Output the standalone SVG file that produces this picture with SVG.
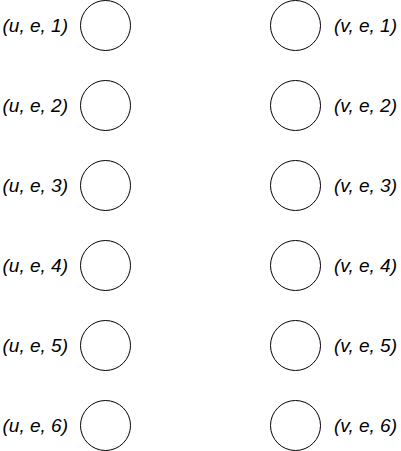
<svg xmlns="http://www.w3.org/2000/svg" width="401" height="451" viewBox="0 0 401 451">
<style>
.n{fill:#fff;stroke:#000;stroke-width:1}
.t{font-family:"Liberation Sans",Arial,sans-serif;font-style:italic;font-size:19px;fill:#000}
.l{text-anchor:end}
</style>
<rect width="401" height="451" fill="#fff"/>
<g id="connectors"/>
<g id="u1"><circle class="n" cx="105.5" cy="25.5" r="25"/><text class="t l" x="68" y="32">(u, e, 1)</text></g>
<g id="u2"><circle class="n" cx="105.5" cy="105.5" r="25"/><text class="t l" x="68" y="112">(u, e, 2)</text></g>
<g id="u3"><circle class="n" cx="105.5" cy="185.5" r="25"/><text class="t l" x="68" y="192">(u, e, 3)</text></g>
<g id="u4"><circle class="n" cx="105.5" cy="265.5" r="25"/><text class="t l" x="68" y="272">(u, e, 4)</text></g>
<g id="u5"><circle class="n" cx="105.5" cy="345.5" r="25"/><text class="t l" x="68" y="352">(u, e, 5)</text></g>
<g id="u6"><circle class="n" cx="105.5" cy="425.5" r="25"/><text class="t l" x="68" y="432">(u, e, 6)</text></g>
<g id="v1"><circle class="n" cx="295.5" cy="25.5" r="25"/><text class="t" x="334" y="32">(v, e, 1)</text></g>
<g id="v2"><circle class="n" cx="295.5" cy="105.5" r="25"/><text class="t" x="334" y="112">(v, e, 2)</text></g>
<g id="v3"><circle class="n" cx="295.5" cy="185.5" r="25"/><text class="t" x="334" y="192">(v, e, 3)</text></g>
<g id="v4"><circle class="n" cx="295.5" cy="265.5" r="25"/><text class="t" x="334" y="272">(v, e, 4)</text></g>
<g id="v5"><circle class="n" cx="295.5" cy="345.5" r="25"/><text class="t" x="334" y="352">(v, e, 5)</text></g>
<g id="v6"><circle class="n" cx="295.5" cy="425.5" r="25"/><text class="t" x="334" y="432">(v, e, 6)</text></g>
</svg>
